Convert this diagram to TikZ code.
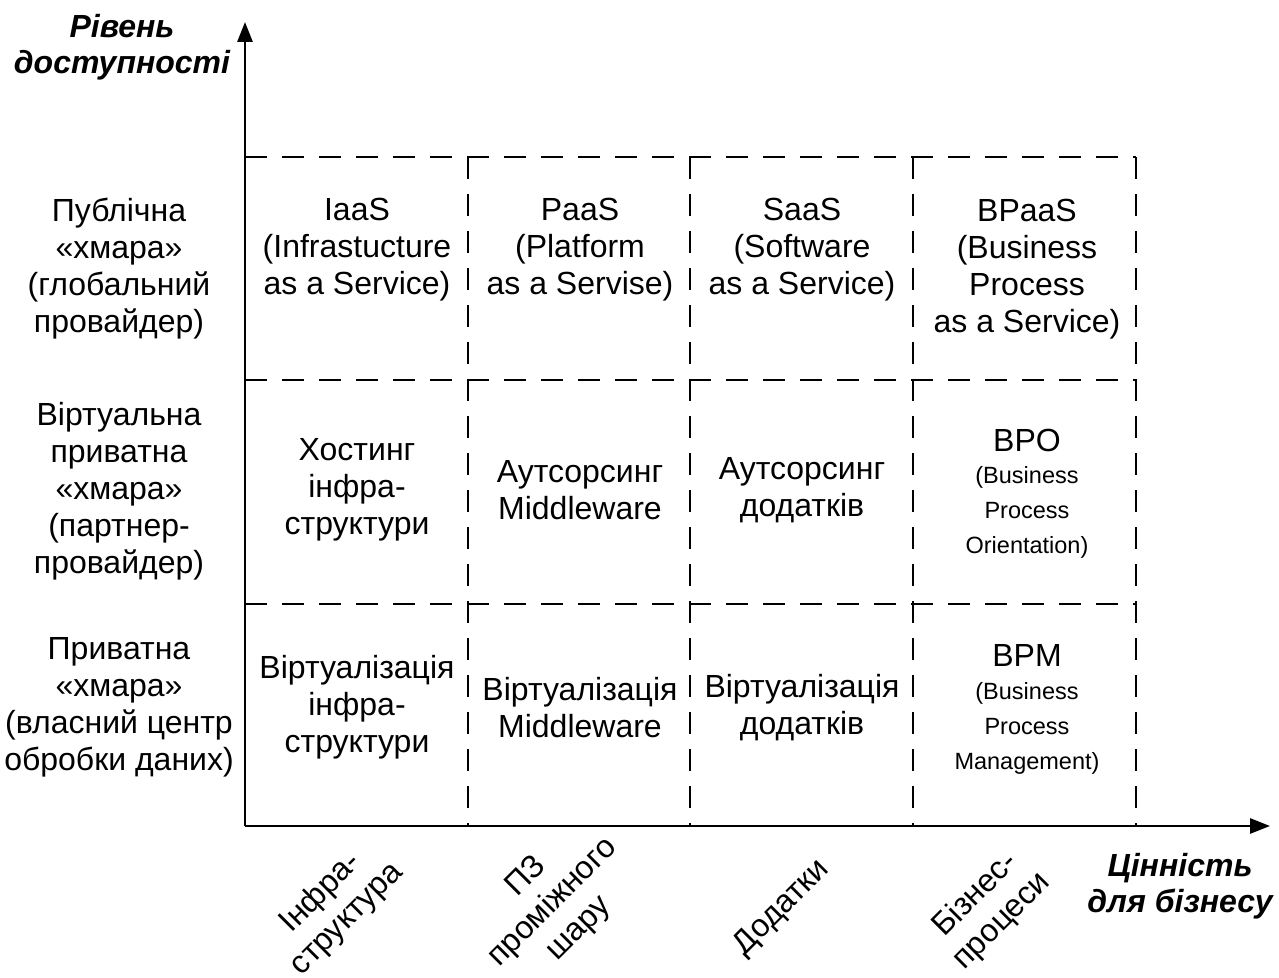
\documentclass[tikz,border=0pt]{standalone}
\usepackage{fontspec}
\setmainfont{Liberation Sans}
\usetikzlibrary{arrows.meta}
\begin{document}
\begin{tikzpicture}[x=0.5pt,y=-0.5pt,
  gridline/.style={line width=1.35pt, dash pattern=on 11pt off 7.5pt},
  axisline/.style={line width=1.4pt, -{Triangle[length=10pt,width=7.5pt]}},
  cell/.style={align=center, font=\fontsize{16}{18.5}\selectfont, inner sep=0pt},
  smallcell/.style={align=center, font=\fontsize{11.75}{17.5}\selectfont, inner sep=0pt},
  title/.style={align=center, font=\fontsize{16}{18}\selectfont\bfseries\itshape, inner sep=0pt},
  rotlabel/.style={align=center, font=\fontsize{16}{18.5}\selectfont, inner sep=0pt, rotate=45}
]
\useasboundingbox (0,0) rectangle (1279,978);

% axes
\coordinate (O) at (245,826);
\coordinate (ytip) at (245,22);
\coordinate (xtip) at (1270,826);
\draw[axisline] (O) -- (ytip);
\draw[axisline] (O) -- (xtip);

% grid
\coordinate (h1a) at (245,157); \coordinate (h1b) at (1136,157);
\coordinate (h2a) at (245,380); \coordinate (h2b) at (1136,380);
\coordinate (h3a) at (245,604); \coordinate (h3b) at (1136,604);
\draw[gridline] (h1a) -- (h1b);
\draw[gridline] (h2a) -- (h2b);
\draw[gridline] (h3a) -- (h3b);
\foreach \x/\n in {468/a,690/b,913/c,1136/d}{
  \coordinate (v\n t) at (\x,157);
  \coordinate (v\n b) at (\x,826);
  \draw[gridline] (v\n t) -- (v\n b);
}

% axis titles
\node[title] (ytitle) at (122,47) {Рівень\\доступності};
\node[title] (xtitle) at (1180,886) {Цінність\\для бізнесу};

% row labels
\node[cell] (r1) at (119,269) {Публічна\\«хмара»\\(глобальний\\провайдер)};
\node[cell] (r2) at (119,491) {Віртуальна\\приватна\\«хмара»\\(партнер-\\провайдер)};
\node[cell] (r3) at (119,707) {Приватна\\«хмара»\\(власний центр\\обробки даних)};

% column labels
\node[rotlabel] (c1) at (334,906) {Інфра-\\структура};
\node[rotlabel] (c2) at (553,903) {ПЗ\\проміжного\\шару};
\node[rotlabel] (c3) at (782,908) {Додатки};
\node[rotlabel] (c4) at (989,908) {Бізнес-\\процеси};

% row 1
\node[cell] (iaas) at (357,250) {IaaS\\(Infrastucture\\as a Service)};
\node[cell] (paas) at (580,250) {PaaS\\(Platform\\as a Servise)};
\node[cell] (saas) at (802,250) {SaaS\\(Software\\as a Service)};
\node[cell] (bpaas) at (1027,269) {BPaaS\\(Business\\Process\\as a Service)};

% row 2
\node[cell] (host) at (357,490) {Хостинг\\інфра-\\структури};
\node[cell] (outmw) at (580,490) {Аутсорсинг\\Middleware};
\node[cell] (outapp) at (802,490) {Аутсорсинг\\додатків};
\node[cell] (bpo) at (1027,440) {BPO};
\node[smallcell] (bpod) at (1027,512) {(Business\\Process\\Orientation)};

% row 3
\node[cell] (virtinf) at (357,707) {Віртуалізація\\інфра-\\структури};
\node[cell] (virtmw) at (580,708) {Віртуалізація\\Middleware};
\node[cell] (virtapp) at (802,708) {Віртуалізація\\додатків};
\node[cell] (bpm) at (1027,655) {BPM};
\node[smallcell] (bpmd) at (1027,728) {(Business\\Process\\Management)};
\end{tikzpicture}
\end{document}
